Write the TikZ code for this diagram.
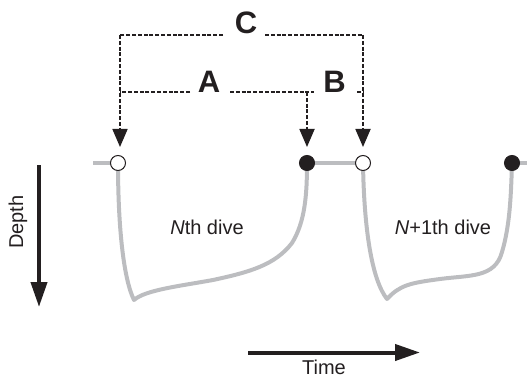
\documentclass[tikz,border=0pt]{standalone}
\usepackage{fontspec}
\setmainfont{Liberation Sans}
\usetikzlibrary{arrows.meta}
\definecolor{ink}{HTML}{231F20}
\definecolor{trace}{HTML}{BCBDC0}
\tikzset{
  dive/.style={draw=trace, line width=4pt, line join=round},
  surf/.style={draw=trace, line width=4pt},
  openpt/.style={circle, draw=ink, fill=white, line width=1pt, minimum size=15pt, inner sep=0pt},
  shutpt/.style={circle, draw=ink, fill=ink, line width=1pt, minimum size=15pt, inner sep=0pt},
  gap/.style={draw=ink, line width=1.8pt, dash pattern=on 4pt off 1.8pt},
  gaparrow/.style={gap, shorten >=16pt, -{Triangle[length=18pt, width=15pt]}},
  letter/.style={font=\fontsize{31}{34}\selectfont\bfseries, text=ink, inner sep=0pt},
  caption/.style={font=\fontsize{20}{24}\selectfont, text=ink, inner sep=0pt},
  axis/.style={draw=ink, line width=4pt, -{Triangle[length=25pt, width=16pt]}}
}
\begin{document}
\begin{tikzpicture}[x=1pt, y=-1pt]
\useasboundingbox (0,0) rectangle (527,377);

% surface points
\coordinate (s0) at (93,163);
\coordinate (s1) at (527,163);
\coordinate (p1) at (118,163);
\coordinate (p2) at (307,163);
\coordinate (p3) at (363,163);
\coordinate (p4) at (512,163);

% surface intervals
\path[surf] (s0) -- (p1);
\path[surf] (p2) -- (p3);
\path[surf] (p4) -- (s1);
% dive profiles
\path[dive] (p1) .. controls (118,230) and (124,280) .. (134,300)
  .. controls (145,290) and (180,286) .. (213,280)
  .. controls (250,272) and (275,265) .. (292,243)
  .. controls (305,222) and (307,195) .. (p2);
\path[dive] (p3) .. controls (364,230) and (372,280) .. (387,299)
  .. controls (400,285) and (410,283) .. (440,279)
  .. controls (470,275) and (495,278) .. (502,252)
  .. controls (510,225) and (511,195) .. (p4);

\node[openpt] (o1) at (p1) {};
\node[shutpt] (f1) at (p2) {};
\node[openpt] (o2) at (p3) {};
\node[shutpt] (f2) at (p4) {};

% interval brackets
\node[letter] (C) at (246,22.5) {C};
\node[letter] (A) at (209,81.5) {A};
\node[letter] (B) at (334.5,81.5) {B};
\coordinate (cl) at (120,35);
\coordinate (cm1) at (223,35);
\coordinate (cm2) at (265,35);
\coordinate (cr) at (363,35);
\coordinate (al) at (120,92);
\coordinate (am1) at (190,92);
\coordinate (am2) at (230,92);
\coordinate (ar) at (307,92);
\coordinate (ae) at (314,92);
\coordinate (bs) at (357,92);
\coordinate (be) at (363,92);
\draw[gap] (cm1) -- (cl);
\draw[gap] (cm2) -- (cr);
\draw[gap] (am1) -- (al);
\draw[gap] (am2) -- (ae);
\draw[gap] (bs) -- (be);
\draw[gaparrow] (cl) -- (cl |- o1.center);
\draw[gaparrow] (ar) -- (f1.center);
\draw[gaparrow] (cr) -- (o2.center);

% dive labels
\node[caption] (n1) at (207,227) {\itshape N\upshape th dive};
\node[caption] (n2) at (443,227) {\itshape N\upshape+1th dive};

% axes
\coordinate (d0) at (39,165);
\coordinate (d1) at (39,307);
\draw[axis] (d0) -- (d1);
\node[caption, rotate=90] (depth) at (18,222) {Depth};
\coordinate (t0) at (248,352.5);
\coordinate (t1) at (420,352.5);
\draw[axis] (t0) -- (t1);
\node[caption, anchor=base] (time) at (324,374) {Time};
\end{tikzpicture}
\end{document}
